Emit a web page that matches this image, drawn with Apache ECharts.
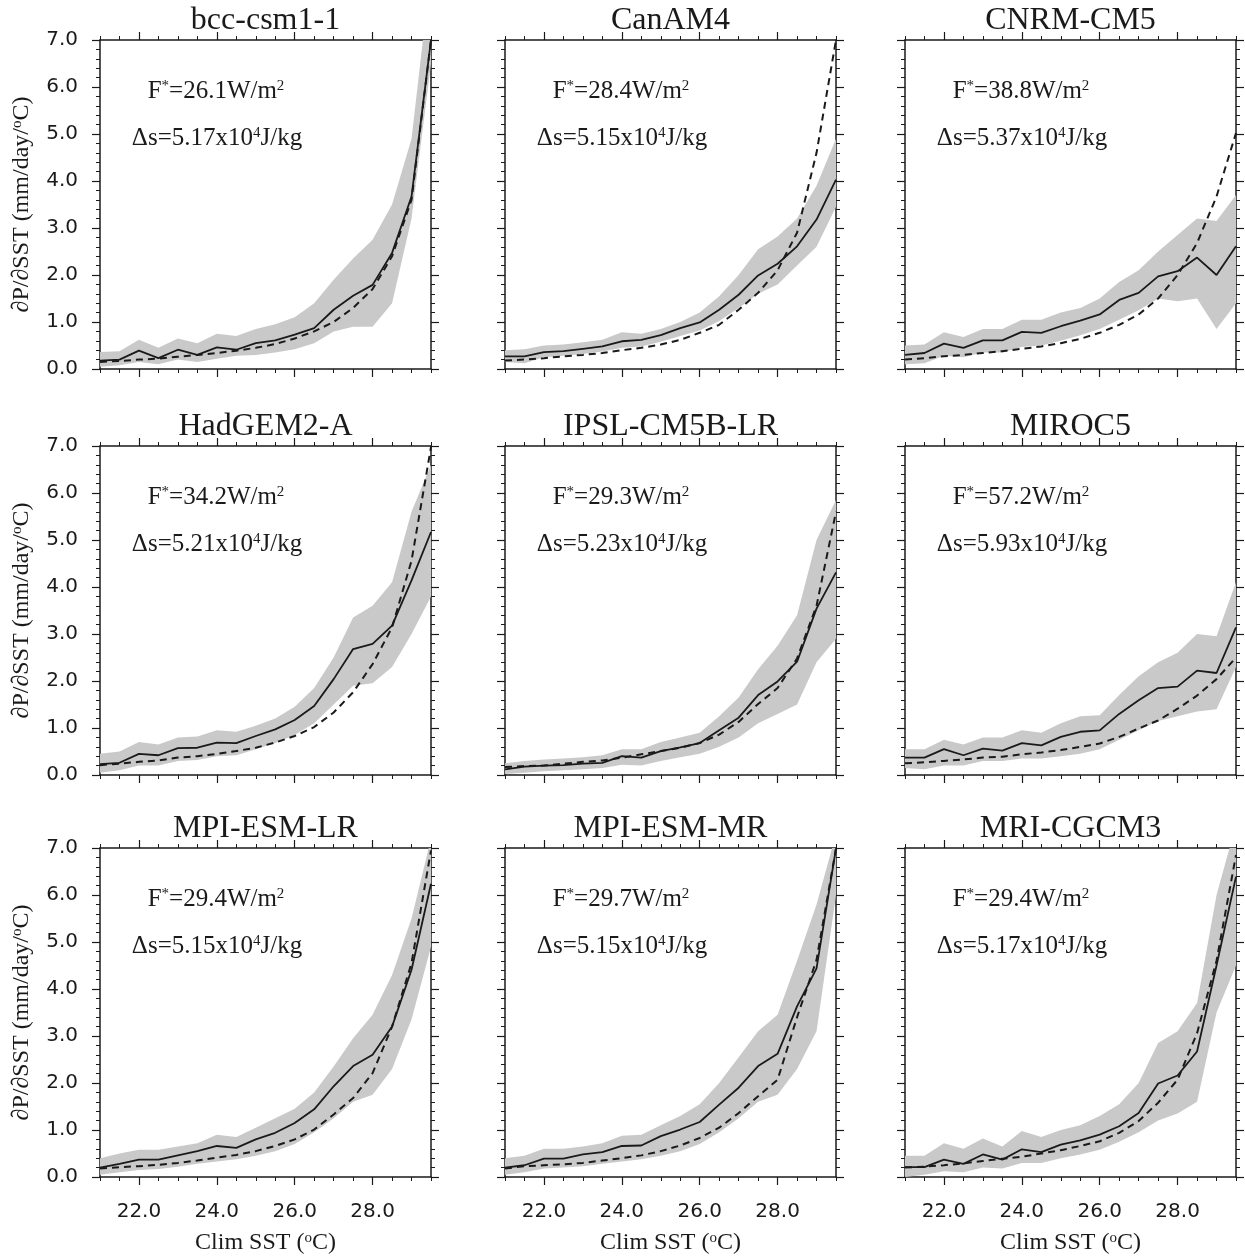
<!DOCTYPE html>
<html>
<head>
<meta charset="utf-8">
<script src="https://cdn.jsdelivr.net/npm/echarts@6/dist/echarts.min.js"></script>
<style>
html, body { margin: 0; padding: 0; background: #fff; }
#main { width: 1245px; height: 1256px; }
</style>
</head>
<body>
<div id="main"></div>
<script>
// climatological SST bins (deg C)
var sst = [21.0, 21.5, 22.0, 22.5, 23.0, 23.5, 24.0, 24.5, 25.0, 25.5, 26.0, 26.5, 27.0, 27.5, 28.0, 28.5, 29.0, 29.5];
var xMajor = [22, 24, 26, 28];

var models = ['bcc-csm1-1', 'CanAM4', 'CNRM-CM5', 'HadGEM2-A', 'IPSL-CM5B-LR', 'MIROC5', 'MPI-ESM-LR', 'MPI-ESM-MR', 'MRI-CGCM3'];
var fStar = ['26.1', '28.4', '38.8', '34.2', '29.3', '57.2', '29.4', '29.7', '29.4'];
var deltaS = ['5.17', '5.15', '5.37', '5.21', '5.23', '5.93', '5.15', '5.15', '5.17'];

// solid = model, dashed = theory, low/high = gray spread
var bccMean   = [0.18,0.20,0.39,0.23,0.41,0.30,0.46,0.41,0.55,0.61,0.73,0.87,1.26,1.56,1.79,2.47,3.67,7.00];
var bccTheory = [0.15,0.17,0.20,0.22,0.26,0.30,0.34,0.39,0.45,0.53,0.65,0.80,1.00,1.30,1.70,2.40,3.60,7.00];
var bccHigh   = [0.36,0.38,0.62,0.45,0.65,0.55,0.75,0.70,0.85,0.95,1.10,1.40,1.90,2.35,2.75,3.50,4.90,8.50];
var bccLow    = [0.05,0.08,0.15,0.10,0.20,0.15,0.22,0.28,0.30,0.35,0.42,0.55,0.80,0.90,0.90,1.40,3.20,6.50];

var canMean   = [0.27,0.27,0.36,0.38,0.43,0.48,0.59,0.62,0.72,0.87,0.99,1.26,1.58,1.99,2.24,2.61,3.18,4.03];
var canTheory = [0.18,0.20,0.23,0.27,0.30,0.34,0.40,0.45,0.52,0.62,0.77,0.94,1.26,1.62,2.10,2.90,4.60,7.00];
var canHigh   = [0.40,0.42,0.50,0.52,0.57,0.62,0.78,0.75,0.85,1.00,1.20,1.55,2.00,2.55,2.82,3.20,3.90,4.90];
var canLow    = [0.15,0.12,0.25,0.28,0.32,0.37,0.45,0.48,0.58,0.70,0.82,1.02,1.30,1.60,1.80,2.20,2.60,3.45];

var cnrmMean   = [0.30,0.34,0.54,0.45,0.61,0.61,0.79,0.77,0.91,1.03,1.16,1.47,1.62,1.97,2.08,2.37,2.00,2.61];
var cnrmTheory = [0.20,0.23,0.27,0.30,0.34,0.38,0.43,0.48,0.55,0.64,0.77,0.94,1.16,1.50,2.00,2.68,3.67,5.02];
var cnrmHigh   = [0.50,0.52,0.78,0.68,0.85,0.85,1.05,1.05,1.20,1.30,1.50,1.85,2.10,2.50,2.85,3.20,3.15,3.70];
var cnrmLow    = [0.10,0.12,0.28,0.25,0.35,0.35,0.47,0.50,0.60,0.72,0.85,1.05,1.25,1.50,1.44,1.50,0.85,1.40];

var hadMean   = [0.23,0.26,0.45,0.42,0.57,0.58,0.69,0.68,0.83,0.97,1.17,1.47,2.04,2.68,2.79,3.18,4.14,5.17];
var hadTheory = [0.21,0.24,0.28,0.31,0.37,0.40,0.45,0.51,0.58,0.69,0.83,1.02,1.33,1.76,2.36,3.14,4.56,6.98];
var hadHigh   = [0.45,0.50,0.70,0.65,0.80,0.82,0.95,0.92,1.05,1.20,1.45,1.85,2.50,3.35,3.60,4.10,5.60,6.60];
var hadLow    = [0.05,0.10,0.20,0.20,0.30,0.32,0.40,0.42,0.55,0.68,0.85,1.10,1.50,1.90,1.95,2.30,3.00,3.80];

var ipslMean   = [0.12,0.18,0.20,0.21,0.24,0.26,0.40,0.37,0.51,0.59,0.68,0.95,1.22,1.70,1.99,2.41,3.54,4.31];
var ipslTheory = [0.17,0.19,0.20,0.24,0.28,0.31,0.37,0.44,0.51,0.58,0.68,0.86,1.13,1.51,1.85,2.48,3.60,5.60];
var ipslHigh   = [0.25,0.30,0.33,0.35,0.38,0.42,0.55,0.55,0.70,0.80,0.90,1.25,1.65,2.25,2.75,3.40,5.00,5.85];
var ipslLow    = [0.02,0.05,0.08,0.10,0.12,0.15,0.22,0.20,0.30,0.38,0.45,0.60,0.80,1.10,1.30,1.50,2.40,2.90];

var mirocMean   = [0.37,0.37,0.55,0.42,0.56,0.52,0.68,0.63,0.81,0.92,0.95,1.30,1.59,1.85,1.88,2.22,2.17,3.14];
var mirocTheory = [0.25,0.27,0.30,0.33,0.37,0.39,0.44,0.48,0.53,0.60,0.67,0.81,0.99,1.16,1.41,1.69,2.04,2.50];
var mirocHigh   = [0.55,0.55,0.75,0.65,0.80,0.80,0.95,0.90,1.10,1.25,1.27,1.70,2.10,2.40,2.60,3.00,2.95,4.10];
var mirocLow    = [0.15,0.12,0.20,0.20,0.30,0.30,0.35,0.35,0.40,0.45,0.55,0.75,0.95,1.15,1.25,1.35,1.40,2.30];

var mpilrMean   = [0.20,0.28,0.37,0.37,0.46,0.55,0.66,0.62,0.80,0.94,1.15,1.44,1.93,2.36,2.60,3.20,4.41,6.24];
var mpilrTheory = [0.18,0.21,0.23,0.26,0.30,0.35,0.41,0.47,0.55,0.66,0.80,1.01,1.33,1.68,2.21,3.20,4.55,6.95];
var mpilrHigh   = [0.40,0.50,0.58,0.58,0.65,0.72,0.90,0.85,1.05,1.25,1.45,1.80,2.35,2.95,3.45,4.30,5.50,7.20];
var mpilrLow    = [0.05,0.10,0.15,0.17,0.22,0.28,0.33,0.38,0.45,0.55,0.70,0.95,1.25,1.60,1.75,2.30,3.35,4.90];

var mpimrMean   = [0.20,0.25,0.39,0.39,0.48,0.53,0.66,0.67,0.87,1.01,1.17,1.54,1.90,2.36,2.62,3.63,4.44,6.99];
var mpimrTheory = [0.18,0.23,0.25,0.27,0.30,0.35,0.40,0.46,0.55,0.67,0.83,1.05,1.36,1.72,2.07,3.40,4.62,6.99];
var mpimrHigh   = [0.40,0.45,0.60,0.60,0.65,0.72,0.88,0.90,1.10,1.30,1.55,2.00,2.55,3.10,3.45,4.60,5.80,7.30];
var mpimrLow    = [0.05,0.10,0.18,0.20,0.23,0.28,0.33,0.38,0.45,0.55,0.70,0.95,1.25,1.60,1.75,2.30,3.10,6.00];

var mriMean   = [0.21,0.21,0.37,0.28,0.48,0.37,0.59,0.53,0.69,0.78,0.90,1.08,1.36,1.99,2.16,2.67,4.50,6.39];
var mriTheory = [0.20,0.22,0.25,0.29,0.34,0.39,0.43,0.50,0.57,0.66,0.76,0.94,1.19,1.58,2.07,3.06,4.60,6.85];
var mriHigh   = [0.45,0.45,0.72,0.60,0.82,0.65,0.98,0.85,1.00,1.10,1.30,1.55,2.00,2.85,3.10,3.70,6.00,7.50];
var mriLow    = [0.00,0.05,0.12,0.10,0.20,0.18,0.30,0.30,0.40,0.48,0.58,0.75,0.95,1.20,1.35,1.60,3.50,4.50];

var panels = [
    {mean: bccMean,   theory: bccTheory,   high: bccHigh,   low: bccLow},
    {mean: canMean,   theory: canTheory,   high: canHigh,   low: canLow},
    {mean: cnrmMean,  theory: cnrmTheory,  high: cnrmHigh,  low: cnrmLow},
    {mean: hadMean,   theory: hadTheory,   high: hadHigh,   low: hadLow},
    {mean: ipslMean,  theory: ipslTheory,  high: ipslHigh,  low: ipslLow},
    {mean: mirocMean, theory: mirocTheory, high: mirocHigh, low: mirocLow},
    {mean: mpilrMean, theory: mpilrTheory, high: mpilrHigh, low: mpilrLow},
    {mean: mpimrMean, theory: mpimrTheory, high: mpimrHigh, low: mpimrLow},
    {mean: mriMean,   theory: mriTheory,   high: mriHigh,   low: mriLow}
];

// layout
var colLeft = [100, 505, 905];
var rowTop = [40, 446, 848];
var panelW = 331, panelH = 329;

var serif = '"Liberation Serif", "Times New Roman", serif';
var sans = '"DejaVu Sans", "Liberation Sans", sans-serif';
var ink = '#1a1a1a';
var bandColor = '#c9c9c9';

function pairs(xs, ys) {
    return xs.map(function (x, k) { return [x, ys[k]]; });
}

// gray spread drawn as one polygon through the axis scales
function bandItem(params, api) {
    if (params.dataIndex !== 0) return null;
    var n = sst.length, pts = [], k;
    for (k = 0; k < n; k++) pts.push(api.coord([api.value(0, k), api.value(2, k)]));
    for (k = n - 1; k >= 0; k--) pts.push(api.coord([api.value(0, k), api.value(1, k)]));
    return {type: 'polygon', shape: {points: pts}, style: {fill: bandColor}};
}

var nameRich = {
    a: {fontFamily: serif, fontSize: 24, color: ink},
    s: {fontFamily: serif, fontSize: 15, color: ink, verticalAlign: 'top'}
};

var grids = [], xAxes = [], yAxes = [], series = [], graphics = [];

panels.forEach(function (p, i) {
    var r = Math.floor(i / 3), c = i % 3;
    var left = colLeft[c], top = rowTop[r];
    var bottomRow = r === 2, firstCol = c === 0;
    grids.push({left: left, top: top, width: panelW, height: panelH});

    var xi = xAxes.length;
    ['bottom', 'top'].forEach(function (pos) {
        // minor ticks every 0.5 (and the frame line)
        xAxes.push({
            type: 'value', gridIndex: i, position: pos, min: 21, max: 29.5, interval: 0.5,
            axisLine: {show: true, onZero: false, lineStyle: {color: ink, width: 1.5}},
            axisTick: {show: true, length: 4, lineStyle: {color: ink, width: 1}},
            axisLabel: {show: false}, splitLine: {show: false}
        });
        // major ticks / labels
        var withLabel = bottomRow && pos === 'bottom';
        xAxes.push({
            type: 'value', gridIndex: i, position: pos, min: 21, max: 29.5,
            axisLine: {show: false, onZero: false},
            axisTick: {show: true, length: 8, customValues: xMajor, lineStyle: {color: ink, width: 1.2}},
            axisLabel: {
                show: withLabel, customValues: xMajor, margin: 25,
                fontSize: 20, fontFamily: sans, color: ink,
                formatter: function (v) { return v.toFixed(1); }
            },
            splitLine: {show: false},
            name: withLabel ? '{a|Clim SST (}{s|o}{a|C)}' : '',
            nameLocation: 'middle', nameGap: 54,
            nameTextStyle: {rich: nameRich}
        });
    });

    var yi = yAxes.length;
    ['left', 'right'].forEach(function (pos) {
        var withLabel = firstCol && pos === 'left';
        yAxes.push({
            type: 'value', gridIndex: i, position: pos, min: 0, max: 7, interval: 1,
            axisLine: {show: true, onZero: false, lineStyle: {color: ink, width: 1.5}},
            axisTick: {show: true, length: 8, lineStyle: {color: ink, width: 1.2}},
            minorTick: {show: true, splitNumber: 5, length: 4, lineStyle: {color: ink, width: 1}},
            axisLabel: {
                show: withLabel, margin: 22, fontSize: 20, fontFamily: sans, color: ink,
                formatter: function (v) { return v.toFixed(1); }
            },
            splitLine: {show: false},
            name: withLabel ? '{a|\u2202P/\u2202SST (mm/day/}{s|o}{a|C)}' : '',
            nameLocation: 'middle', nameGap: 66,
            nameTextStyle: {rich: nameRich}
        });
    });

    series.push({
        type: 'custom', xAxisIndex: xi, yAxisIndex: yi, clip: true, silent: true, z: 1,
        data: sst.map(function (x, k) { return [x, p.low[k], p.high[k]]; }),
        encode: {x: 0, y: [1, 2]},
        renderItem: bandItem
    });
    series.push({
        type: 'line', xAxisIndex: xi, yAxisIndex: yi,
        data: pairs(sst, p.theory), symbol: 'none',
        lineStyle: {color: ink, width: 2, type: [7, 5]}, z: 3
    });
    series.push({
        type: 'line', xAxisIndex: xi, yAxisIndex: yi,
        data: pairs(sst, p.mean), symbol: 'none',
        lineStyle: {color: ink, width: 1.8}, z: 4
    });

    // panel title
    graphics.push({
        type: 'text', x: left + panelW / 2, y: top - 19,
        style: {
            text: models[i], font: '32px ' + serif, fill: ink,
            align: 'center', verticalAlign: 'middle', textAlign: 'center', textVerticalAlign: 'middle'
        }
    });
    // annotations
    var rich = {
        a: {fontFamily: serif, fontSize: 25, fill: ink, color: ink},
        s: {fontFamily: serif, fontSize: 15, fill: ink, color: ink, verticalAlign: 'top'}
    };
    graphics.push({
        type: 'text', x: left + 116, y: top + 51,
        style: {
            text: '{a|F}{s|*}{a|=' + fStar[i] + 'W/m}{s|2}', rich: rich,
            align: 'center', verticalAlign: 'middle', textAlign: 'center', textVerticalAlign: 'middle'
        }
    });
    graphics.push({
        type: 'text', x: left + 117, y: top + 98,
        style: {
            text: '{a|\u0394s=' + deltaS[i] + 'x10}{s|4}{a|J/kg}', rich: rich,
            align: 'center', verticalAlign: 'middle', textAlign: 'center', textVerticalAlign: 'middle'
        }
    });
});

var chart = echarts.init(document.getElementById('main'));
chart.setOption({
    animation: false,
    backgroundColor: '#fff',
    grid: grids,
    xAxis: xAxes,
    yAxis: yAxes,
    series: series,
    graphic: graphics
});
</script>
</body>
</html>
